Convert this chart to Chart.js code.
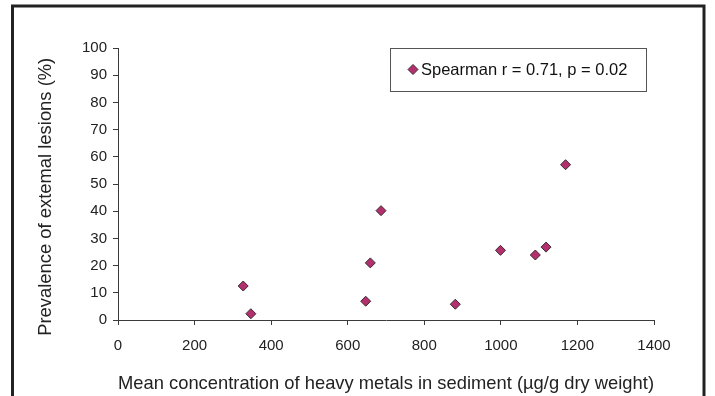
<!DOCTYPE html>
<html>
<head>
<meta charset="utf-8">
<script src="https://cdn.jsdelivr.net/npm/chart.js@4/dist/chart.umd.min.js"></script>
<style>
  html, body { margin: 0; padding: 0; background: #fff; }
  #wrap { width: 715px; height: 396px; }
</style>
</head>
<body>
<div id="wrap"><canvas id="chartLesions" width="715" height="396"></canvas></div>
<script>
// concentracao media de metais (ug/g) x prevalencia de lesoes (%)
const metals = [327, 347, 647, 659, 687, 881, 999, 1090, 1118, 1169];
const lesions = [12.5, 2.3, 6.9, 21, 40.2, 5.8, 25.6, 23.9, 26.8, 57.1];
const xTicks = [0, 200, 400, 600, 800, 1000, 1200, 1400];
const yTicks = [0, 10, 20, 30, 40, 50, 60, 70, 80, 90, 100];
const legendLabel = 'Spearman r = 0.71, p = 0.02';

const FONT = '"Liberation Sans", Arial, sans-serif';
const AXIS = '#3a3a3a';

const frameAndLegend = {
  id: 'frameAndLegend',
  afterDraw(chart) {
    const { ctx } = chart;
    ctx.save();
    // moldura externa (cortada embaixo, como no original)
    ctx.strokeStyle = '#222';
    ctx.lineWidth = 3;
    ctx.beginPath();
    ctx.moveTo(12.5, 420);
    ctx.lineTo(12.5, 6);
    ctx.lineTo(704, 6);
    ctx.lineTo(704, 420);
    ctx.stroke();

    // caixa da legenda
    ctx.lineWidth = 1;
    ctx.strokeStyle = '#555';
    ctx.strokeRect(390.5, 48.5, 256, 43);
    const ds = chart.data.datasets[0];
    ctx.fillStyle = ds.backgroundColor;
    ctx.strokeStyle = ds.borderColor;
    ctx.beginPath();
    ctx.moveTo(413, 64.5); ctx.lineTo(418, 69.5); ctx.lineTo(413, 74.5); ctx.lineTo(408, 69.5);
    ctx.closePath();
    ctx.fill();
    ctx.stroke();
    ctx.fillStyle = '#111';
    ctx.font = '16.5px ' + FONT;
    ctx.textAlign = 'left';
    ctx.textBaseline = 'middle';
    ctx.fillText(legendLabel, 421, 70);
    ctx.restore();
  },
};

new Chart(document.getElementById('chartLesions'), {
  type: 'scatter',
  data: {
    datasets: [{
      label: legendLabel,
      data: metals.map((x, i) => ({ x, y: lesions[i] })),
      pointStyle: 'rectRot',
      pointRadius: 5,
      pointHoverRadius: 5,
      backgroundColor: '#b3306e',
      borderColor: '#3a2a30',
      borderWidth: 1,
    }],
  },
  options: {
    responsive: false,
    animation: false,
    layout: { padding: { left: 0, top: 48, right: 61, bottom: 0 } },
    plugins: {
      legend: { display: false },
      tooltip: { enabled: false },
    },
    scales: {
      x: {
        type: 'linear',
        min: 0,
        max: 1400,
        afterBuildTicks: (s) => { s.ticks = xTicks.map((v) => ({ value: v })); },
        afterFit: (s) => { s.height = 76; },
        grid: { drawOnChartArea: false, drawTicks: true, tickLength: 5, color: AXIS },
        border: { color: AXIS, width: 1 },
        ticks: { color: '#222', padding: 12, font: { family: FONT, size: 15 }, callback: (v) => String(v) },
        title: {
          display: true,
          text: 'Mean concentration of heavy metals in sediment (µg/g dry weight)',
          color: '#222',
          font: { family: FONT, size: 18.4 },
          padding: { top: 0, bottom: 1 },
        },
      },
      y: {
        type: 'linear',
        min: 0,
        max: 100,
        afterBuildTicks: (s) => { s.ticks = yTicks.map((v) => ({ value: v })); },
        afterFit: (s) => { s.width = 118; },
        grid: { drawOnChartArea: false, drawTicks: true, tickLength: 5, color: AXIS },
        border: { color: AXIS, width: 1 },
        ticks: { color: '#222', padding: 6, font: { family: FONT, size: 15 }, callback: (v) => String(v) },
        title: {
          display: true,
          // espacos no fim descem o titulo ~12px, como no original
          text: 'Prevalence of extemal lesions (%)     ',
          color: '#222',
          font: { family: FONT, size: 18.4 },
          padding: { top: 35, bottom: 0 },
        },
      },
    },
  },
  plugins: [frameAndLegend],
});
</script>
</body>
</html>
